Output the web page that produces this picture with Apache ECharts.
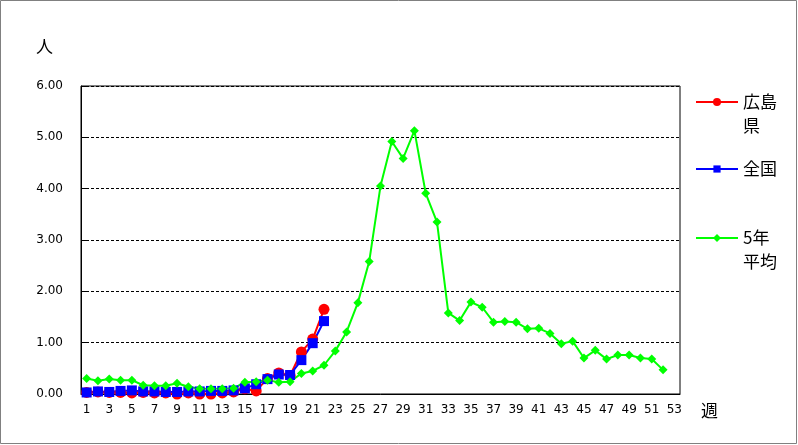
<!DOCTYPE html>
<html>
<head>
<meta charset="utf-8">
<script src="https://cdn.jsdelivr.net/npm/echarts@6/dist/echarts.min.js"></script>
<style>
  html, body { margin: 0; padding: 0; background: #fff; }
  #main { width: 798px; height: 445px; }
</style>
</head>
<body>
<div id="main"></div>
<script>
// 週 1..53
let weeks = [];
for (let i = 1; i <= 53; i++) weeks.push(String(i));

// 広島県 (weeks 1-22)
let hiroshima = [0.03, 0.04, 0.03, 0.03, 0.02, 0.03, 0.02, 0.02, 0.00, 0.02, 0.00,
                 0.00, 0.02, 0.04, 0.10, 0.06, 0.30, 0.41, 0.36, 0.82, 1.07, 1.65];
// 全国 (weeks 1-22)
let zenkoku = [0.03, 0.05, 0.04, 0.06, 0.07, 0.05, 0.05, 0.04, 0.04, 0.05, 0.05,
               0.06, 0.06, 0.07, 0.11, 0.19, 0.29, 0.38, 0.37, 0.66, 0.99, 1.42];
// 5年平均 (weeks 1-52)
let avg5 = [0.30, 0.26, 0.29, 0.27, 0.27, 0.17, 0.16, 0.16, 0.21, 0.14, 0.10,
            0.10, 0.10, 0.11, 0.23, 0.24, 0.27, 0.23, 0.24, 0.40, 0.45, 0.56,
            0.84, 1.21, 1.78, 2.58, 4.05, 4.92, 4.59, 5.13, 3.91, 3.35, 1.58,
            1.43, 1.79, 1.69, 1.40, 1.41, 1.40, 1.27, 1.28, 1.18, 0.98, 1.03,
            0.70, 0.85, 0.68, 0.76, 0.76, 0.70, 0.68, 0.47];

// legend text, wrapped like the original (empty first line keeps the icon on the first text line)
let legendNames = { '広島県': ' \n広島\n県', '全国': '全国', '5年平均': ' \n5年\n平均' };

let myChart = echarts.init(document.getElementById('main'));

function makeLegend(name, top, iconH) {
    return {
        orient: 'vertical',
        left: 695,
        top: top,
        padding: 0,
        itemWidth: 42,
        itemHeight: iconH,
        itemGap: 0,
        selectedMode: false,
        formatter: n => legendNames[n],
        textStyle: {
            fontFamily: 'Noto Sans CJK JP',
            fontSize: 17,
            color: '#000',
            lineHeight: 24
        },
        data: [name]
    };
}

let axisFont = { fontFamily: 'DejaVu Sans', fontSize: 12, color: '#000' };

myChart.setOption({
    animation: false,
    graphic: [{
        type: 'rect',
        shape: { x: 0.5, y: 0.5, width: 796, height: 443 },
        style: { fill: 'none', stroke: '#808080', lineWidth: 1 },
        silent: true
    }],
    grid: {
        left: 81,
        right: 118,
        top: 86,
        bottom: 51,
        show: true,
        borderColor: '#000',
        borderWidth: 1
    },
    legend: [
        makeLegend('広島県', 66, 10),
        makeLegend('全国', 157, 9),
        makeLegend('5年平均', 202, 10)
    ],
    xAxis: {
        type: 'category',
        data: weeks,
        boundaryGap: true,
        name: '週',
        nameLocation: 'end',
        nameGap: 21,
        nameTextStyle: {
            fontFamily: 'Noto Sans CJK JP',
            fontSize: 17,
            color: '#000',
            verticalAlign: 'top',
            padding: [8, 0, 0, 0]
        },
        axisLine: { lineStyle: { color: '#000', width: 1 } },
        axisTick: { inside: true, length: 5, interval: 0, lineStyle: { color: '#000' } },
        axisLabel: Object.assign({ interval: 1, margin: 10 }, axisFont),
        splitLine: { show: false }
    },
    yAxis: {
        type: 'value',
        min: 0,
        max: 6,
        interval: 1,
        name: '人',
        nameLocation: 'end',
        nameGap: 31,
        nameTextStyle: {
            fontFamily: 'Noto Sans CJK JP',
            fontSize: 17,
            color: '#000',
            align: 'right',
            padding: [0, 28, 0, 0]
        },
        axisLine: { show: true, lineStyle: { color: '#000', width: 1 } },
        axisTick: { show: true, inside: true, length: 5, lineStyle: { color: '#000' } },
        axisLabel: Object.assign({ margin: 18, formatter: v => v.toFixed(2) }, axisFont),
        splitLine: { show: true, lineStyle: { color: '#000', type: [3, 2], width: 1 } }
    },
    series: [
        {
            name: '広島県',
            type: 'line',
            data: hiroshima,
            symbol: 'circle',
            symbolSize: 11,
            showAllSymbol: true,
            itemStyle: { color: '#FF0000' },
            lineStyle: { color: '#FF0000', width: 2 }
        },
        {
            name: '全国',
            type: 'line',
            data: zenkoku,
            symbol: 'rect',
            symbolSize: 10,
            showAllSymbol: true,
            itemStyle: { color: '#0000FF' },
            lineStyle: { color: '#0000FF', width: 2 }
        },
        {
            name: '5年平均',
            type: 'line',
            data: avg5,
            symbol: 'diamond',
            symbolSize: 9,
            showAllSymbol: true,
            itemStyle: { color: '#00FF00' },
            lineStyle: { color: '#00FF00', width: 2 }
        }
    ]
});
</script>
</body>
</html>
